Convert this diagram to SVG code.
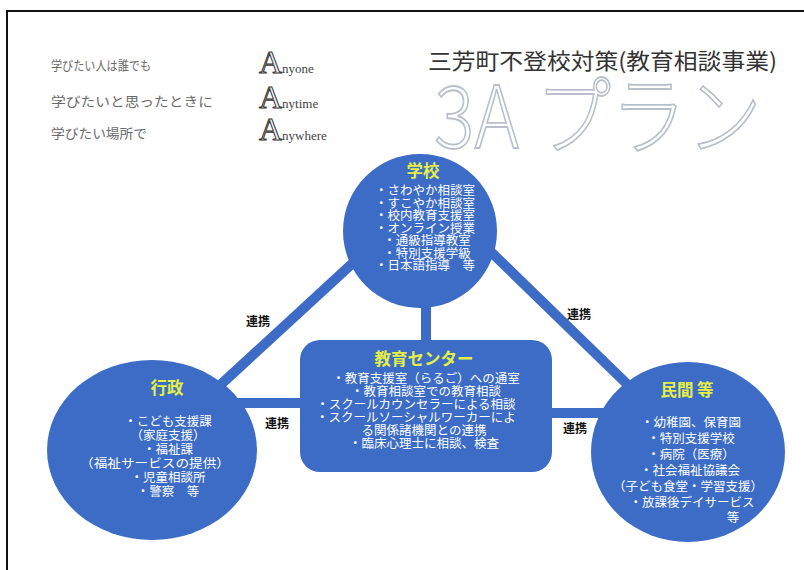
<svg xmlns="http://www.w3.org/2000/svg" width="804" height="570" viewBox="0 0 804 570">
<style>
.jp{font-family:"Noto Sans CJK JP","Noto Sans",sans-serif}
.node{fill:#3c6cc5}
.ttl{fill:#e6ef45;font-weight:bold;font-size:16.5px;text-anchor:middle}
.it{fill:#ffffff;font-size:12.5px;text-anchor:middle}
.lbl{fill:#111;font-size:12px;font-weight:bold;text-anchor:middle}
.link{stroke:#3c6cc5;stroke-width:10;fill:none}
.intro{fill:#6a6a6a;font-size:13px}
.bigA{font-family:"Liberation Serif",serif;font-size:32px;fill:#f4f4f4;stroke:#333;stroke-width:1}
.sm{font-family:"Liberation Serif",serif;font-size:13px;fill:#444}
</style>
<rect x="0" y="0" width="804" height="570" fill="#ffffff"/>
<path d="M7 570 V11 H804" fill="none" stroke="#111" stroke-width="2"/>

<g id="intro">
<text class="jp intro" x="51" y="70" textLength="100" lengthAdjust="spacingAndGlyphs">学びたい人は誰でも</text>
<text class="jp intro" x="51" y="106" textLength="162" lengthAdjust="spacingAndGlyphs">学びたいと思ったときに</text>
<text class="jp intro" x="51" y="138" textLength="96" lengthAdjust="spacingAndGlyphs">学びたい場所で</text>
<text x="259" y="73"><tspan class="bigA">A</tspan><tspan class="sm">nyone</tspan></text>
<text x="259" y="108"><tspan class="bigA">A</tspan><tspan class="sm">nytime</tspan></text>
<text x="259" y="140"><tspan class="bigA">A</tspan><tspan class="sm">nywhere</tspan></text>
</g>

<g id="title">
<text class="jp" x="428" y="69" font-size="22" fill="#333" textLength="349" lengthAdjust="spacingAndGlyphs">三芳町不登校対策(教育相談事業)</text>
<text class="jp" transform="translate(434,148) scale(1,1.17)" x="0" y="0" font-size="74" font-weight="300" fill="#ffffff" stroke="#b8bfca" stroke-width="1.5" textLength="328" lengthAdjust="spacingAndGlyphs">3A プラン</text>
</g>

<g id="connectors">
<line class="link" x1="367" y1="250" x2="180" y2="422"/>
<line class="link" x1="489" y1="250" x2="660" y2="416"/>
<line class="link" x1="426" y1="290" x2="426" y2="350"/>
<line class="link" x1="200" y1="403" x2="310" y2="403"/>
<line class="link" x1="540" y1="413" x2="640" y2="413"/>
<text class="jp lbl" x="258" y="326">連携</text>
<text class="jp lbl" x="579" y="319">連携</text>
<text class="jp lbl" x="277" y="428">連携</text>
<text class="jp lbl" x="575" y="433">連携</text>
</g>

<g id="school" class="jp">
<circle class="node" cx="420" cy="231" r="77"/>
<text class="ttl" x="423" y="177">学校</text>
<text class="it" x="425" y="195">・さわやか相談室</text>
<text class="it" x="425" y="207.5">・すこやか相談室</text>
<text class="it" x="425" y="220">・校内教育支援室</text>
<text class="it" x="425" y="232.5">・オンライン授業</text>
<text class="it" x="427" y="245">・通級指導教室</text>
<text class="it" x="427" y="257.5">・特別支援学級</text>
<text class="it" x="425" y="270">・日本語指導　等</text>
</g>

<g id="center" class="jp">
<rect class="node" x="300" y="340" width="252" height="132" rx="20"/>
<text class="ttl" x="424" y="365">教育センター</text>
<text class="it" x="426" y="383" font-size="13">・教育支援室（らるご）への通室</text>
<text class="it" x="426" y="396" font-size="13">・教育相談室での教育相談</text>
<text class="it" x="416" y="409" font-size="13">・スクールカウンセラーによる相談</text>
<text class="it" x="416" y="422" font-size="13">・スクールソーシャルワーカーによ</text>
<text class="it" x="424" y="435" font-size="13">る関係諸機関との連携</text>
<text class="it" x="424" y="448" font-size="13">・臨床心理士に相談、検査</text>
</g>

<g id="gyosei" class="jp">
<ellipse class="node" cx="152" cy="450" rx="105" ry="90"/>
<text class="ttl" x="167" y="394">行政</text>
<text class="it" x="168" y="426" font-size="13">・こども支援課</text>
<text class="it" x="168" y="440" font-size="11">（家庭支援）</text>
<text class="it" x="168" y="454" font-size="13">・福祉課</text>
<text class="it" x="155" y="468" font-size="12" textLength="150" lengthAdjust="spacingAndGlyphs">（福祉サービスの提供）</text>
<text class="it" x="168" y="482" font-size="13">・児童相談所</text>
<text class="it" x="168" y="496" font-size="13">・警察　等</text>
</g>

<g id="minkan" class="jp">
<ellipse class="node" cx="688" cy="452" rx="97" ry="90"/>
<text class="ttl" x="687" y="396">民間 等</text>
<text class="it" x="691" y="427" font-size="13">・幼稚園、保育園</text>
<text class="it" x="691" y="443" font-size="13">・特別支援学校</text>
<text class="it" x="691" y="459" font-size="13">・病院（医療）</text>
<text class="it" x="690" y="475" font-size="13">・社会福祉協議会</text>
<text class="it" x="688" y="491" font-size="11">（子ども食堂・学習支援）</text>
<text class="it" x="692" y="507" font-size="13">・放課後デイサービス</text>
<text class="it" x="733" y="522" font-size="13">等</text>
</g>
</svg>
